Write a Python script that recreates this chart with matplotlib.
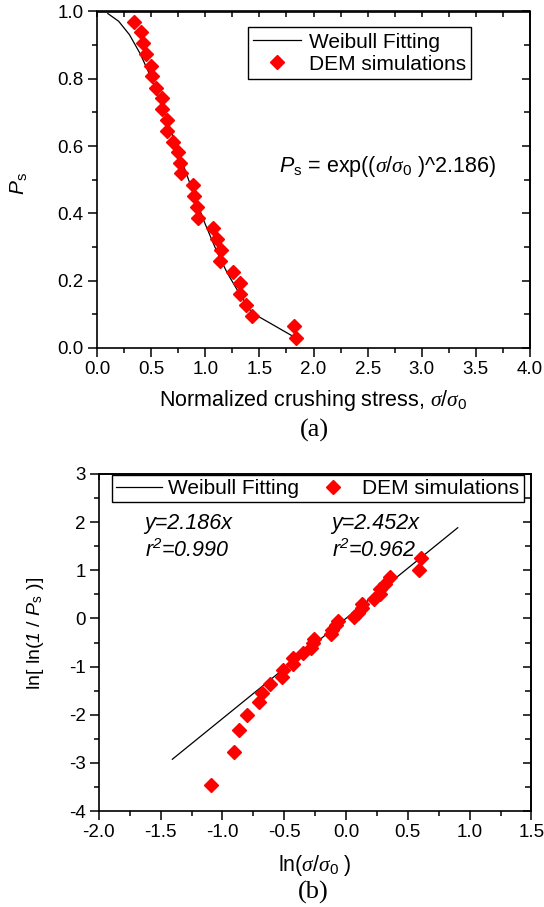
import numpy as np
import matplotlib
matplotlib.use('Agg')
import matplotlib.pyplot as plt
from matplotlib.ticker import MultipleLocator, FormatStrFormatter, NullFormatter

plt.rcParams['font.family'] = ['Liberation Sans', 'DejaVu Sans']
plt.rcParams['mathtext.fontset'] = 'custom'
plt.rcParams['mathtext.rm'] = 'Liberation Sans'
plt.rcParams['mathtext.it'] = 'Liberation Serif:italic'
plt.rcParams['mathtext.sf'] = 'Liberation Sans:italic'
plt.rcParams['axes.unicode_minus'] = False

# (a) survival probability vs normalized crushing stress
sigma_dem = [0.342, 0.404, 0.422, 0.450, 0.496, 0.508, 0.542, 0.597, 0.603, 0.649,
             0.649, 0.705, 0.751, 0.766, 0.773, 0.884, 0.896, 0.926, 0.935, 1.068,
             1.105, 1.142, 1.136, 1.253, 1.320, 1.320, 1.376, 1.428, 1.822, 1.838]
ps_dem = [0.970, 0.939, 0.906, 0.873, 0.839, 0.807, 0.774, 0.742, 0.711, 0.678,
          0.645, 0.613, 0.581, 0.549, 0.519, 0.485, 0.452, 0.420, 0.386, 0.356,
          0.323, 0.291, 0.259, 0.225, 0.192, 0.161, 0.128, 0.095, 0.065, 0.031]
sigma_fit = [0.10, 0.20, 0.30, 0.40, 0.50, 0.60, 0.70, 0.80, 0.90, 1.00,
             1.10, 1.20, 1.30, 1.43, 1.82]
ps_fit = [0.994, 0.971, 0.931, 0.874, 0.803, 0.721, 0.632, 0.541, 0.452, 0.368,
          0.292, 0.225, 0.170, 0.105, 0.033]

# (b) Weibull plot
lnsig_dem = [-1.090, -0.906, -0.863, -0.799, -0.701, -0.677, -0.612, -0.516, -0.506, -0.432,
             -0.432, -0.350, -0.286, -0.267, -0.257, -0.123, -0.110, -0.077, -0.067, 0.066,
             0.100, 0.133, 0.128, 0.226, 0.278, 0.278, 0.319, 0.356, 0.590, 0.606]
lnln_dem = [-3.460, -2.766, -2.315, -1.996, -1.740, -1.540, -1.362, -1.209, -1.076, -0.945,
            -0.824, -0.715, -0.611, -0.512, -0.422, -0.323, -0.231, -0.142, -0.049, 0.032,
            0.122, 0.211, 0.301, 0.400, 0.501, 0.602, 0.721, 0.856, 1.000, 1.250]
lnsig_fit = [-1.405, 0.904]
lnln_fit = [-2.925, 1.884]

W, H = 544, 907
fig = plt.figure(figsize=(W / 100, H / 100), dpi=100)
ax1 = fig.add_axes([97 / W, 1 - 348 / H, 433 / W, 336.5 / H])
ax2 = fig.add_axes([98.8 / W, 1 - 811 / H, 432.6 / W, 337 / H])


def style(ax, xmaj, xmin, ymaj, ymin, xfmt, yfmt):
    ax.xaxis.set_major_locator(MultipleLocator(xmaj))
    ax.xaxis.set_minor_locator(MultipleLocator(xmin))
    ax.yaxis.set_major_locator(MultipleLocator(ymaj))
    ax.yaxis.set_minor_locator(MultipleLocator(ymin))
    ax.xaxis.set_major_formatter(FormatStrFormatter(xfmt))
    ax.yaxis.set_major_formatter(FormatStrFormatter(yfmt))
    ax.tick_params(which='both', direction='out', top=False, right=False,
                   labelsize=13.5, width=1.1)
    ax.tick_params(which='major', length=6.5, pad=3)
    ax.tick_params(which='minor', length=3.5)
    for s in ax.spines.values():
        s.set_linewidth(1.2)
    top = ax.secondary_xaxis('top')
    top.xaxis.set_major_locator(MultipleLocator(xmaj))
    top.xaxis.set_minor_locator(MultipleLocator(xmin))
    top.xaxis.set_major_formatter(NullFormatter())
    top.tick_params(which='both', direction='in', width=1.1, length=4.5)
    top.spines['top'].set_linewidth(1.2)
    right = ax.secondary_yaxis('right')
    right.yaxis.set_major_locator(MultipleLocator(ymaj))
    right.yaxis.set_minor_locator(MultipleLocator(ymin))
    right.yaxis.set_major_formatter(NullFormatter())
    right.tick_params(which='major', direction='in', width=1.1, length=6)
    right.tick_params(which='minor', direction='in', width=1.1, length=4)
    right.spines['right'].set_linewidth(1.2)


# ---- (a)
ax1.plot(sigma_fit, ps_fit, color='black', lw=0.9, label='Weibull Fitting', zorder=2)
ax1.plot(sigma_dem, ps_dem, 'D', color='red', ms=7.5, mec='red', lw=0,
         label='DEM simulations', zorder=3)
ax1.set_xlim(0, 4)
ax1.set_ylim(0, 1)
style(ax1, 0.5, 0.25, 0.2, 0.1, '%.1f', '%.1f')
ax1.set_xlabel(r'Normalized crushing stress, $\sigma/\sigma_\mathit{0}$', fontsize=15.5, va='center')
ax1.xaxis.set_label_coords(0.5, -0.155)
ax1.set_ylabel(r'$\mathsf{P}_\mathrm{s}$', fontsize=15, va='center', ha='center')
ax1.yaxis.set_label_coords(-0.182, 0.49)
ax1.text(1.683, 0.538, r'$\mathsf{P}_\mathrm{s}$ = exp(($\sigma/\sigma_\mathit{0}$ )^2.186)',
         fontsize=15.5, va='center', ha='left')
leg1 = ax1.legend(loc='upper left', bbox_to_anchor=(0.349, 0.953), fontsize=15,
                  frameon=True, fancybox=False, edgecolor='black', framealpha=1,
                  borderpad=0.25, handlelength=2.3, handletextpad=0.35,
                  labelspacing=0.15, borderaxespad=0, numpoints=1)
leg1.get_frame().set_linewidth(1.0)

# ---- (b)
ax2.plot(lnsig_fit, lnln_fit, color='black', lw=0.9, label='Weibull Fitting', zorder=2)
ax2.plot(lnsig_dem, lnln_dem, 'D', color='red', ms=7.5, mec='red', lw=0,
         label='DEM simulations', zorder=3)
ax2.set_xlim(-2, 1.5)
ax2.set_ylim(-4, 3)
style(ax2, 0.5, 0.25, 1, 0.5, '%.1f', '%d')
ax2.set_xlabel(r'ln($\sigma/\sigma_\mathit{0}$ )', fontsize=15.5, va='center')
ax2.xaxis.set_label_coords(0.5, -0.161)
ax2.set_ylabel(r'ln[ ln($\mathsf{1}$ / $\mathsf{P}_\mathrm{s}$ )]', fontsize=14,
               va='center', ha='center')
ax2.yaxis.set_label_coords(-0.147, 0.528)
ax2.text(-1.63, 1.98, 'y=2.186x', fontsize=15.5, style='italic', va='center')
ax2.text(-1.63, 1.42, r'$\mathsf{r^2}$=0.990', fontsize=15.5, style='italic', va='center')
ax2.text(-0.116, 1.98, 'y=2.452x', fontsize=15.5, style='italic', va='center')
ax2.text(-0.116, 1.42, r'$\mathsf{r^2}$=0.962', fontsize=15.5, style='italic', va='center')
leg2 = ax2.legend(loc='upper left', bbox_to_anchor=(0.0298, 0.997), fontsize=15, ncol=2,
                  frameon=True, fancybox=False, edgecolor='black', framealpha=1,
                  borderpad=0.2, handlelength=2.2, handletextpad=0.3,
                  columnspacing=0.55, borderaxespad=0, numpoints=1)
leg2.get_frame().set_linewidth(1.0)

fig.text(314 / W, 1 - 430 / H, '(a)', fontsize=19, family='Liberation Serif',
         ha='center', va='center')
fig.text(313 / W, 1 - 892 / H, '(b)', fontsize=19, family='Liberation Serif',
         ha='center', va='center')

fig.savefig('out.png', dpi=100)
